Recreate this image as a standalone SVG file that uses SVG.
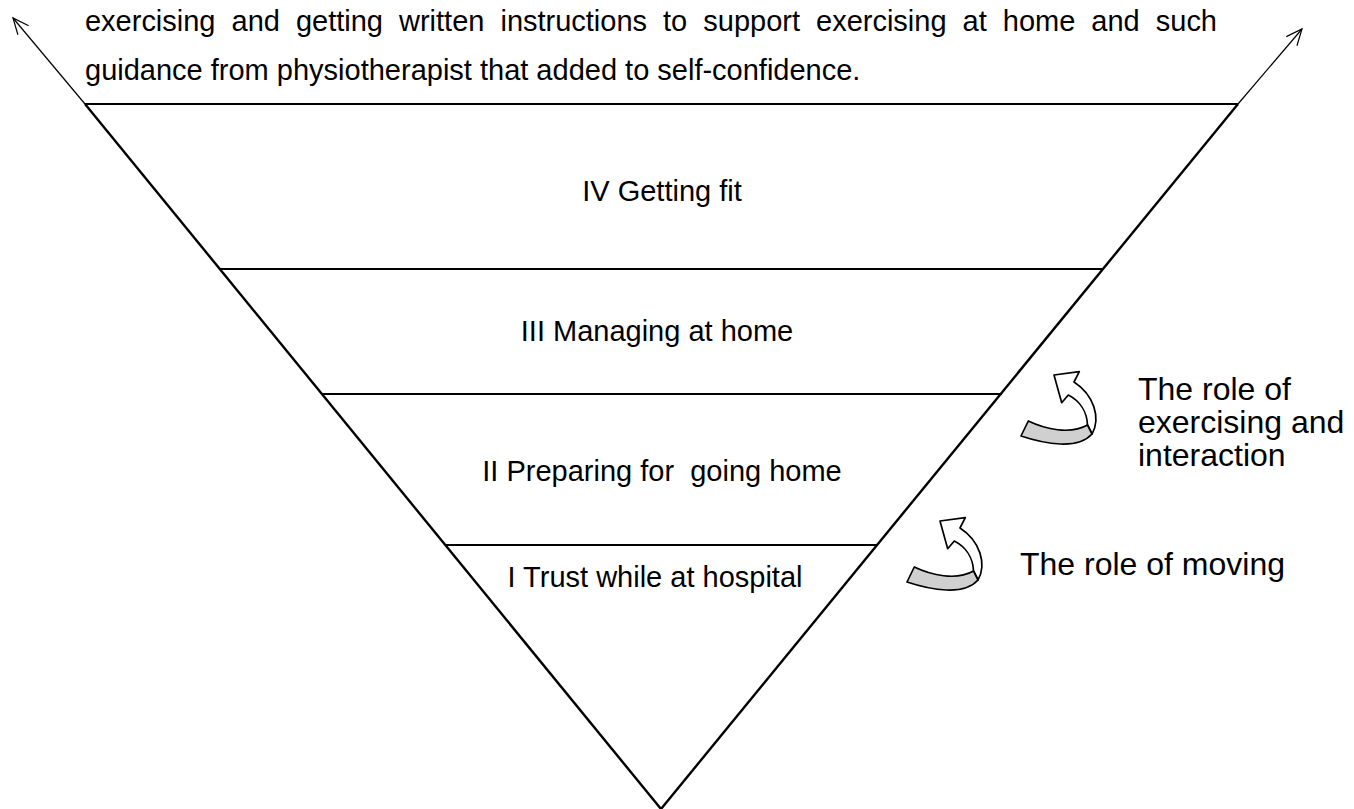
<svg xmlns="http://www.w3.org/2000/svg" width="1354" height="809" viewBox="0 0 1354 809">
<defs>
<style>
text{font-family:"Liberation Sans",Arial,sans-serif;fill:#000;}
.body{font-size:29px;}
.lbl{font-size:29px;text-anchor:middle;white-space:pre;}
.side{font-size:32px;}
.edge{stroke:#000;stroke-width:2.4;fill:none;}
.tier{stroke:#000;stroke-width:1.8;fill:none;}
.thin{stroke:#000;stroke-width:1.2;fill:none;}
.rib{stroke:#000;stroke-width:1.7;stroke-linejoin:round;}
</style>
<marker id="open" viewBox="0 0 20 20" refX="18" refY="10" markerWidth="20" markerHeight="20" markerUnits="userSpaceOnUse" orient="auto">
<path d="M2,3 L18,10 L2,17" fill="none" stroke="#000" stroke-width="1.2"/>
</marker>
<g id="turn">
<path class="rib" fill="#fff" d="M1054,375 L1079.3,371.7 L1074,382 C1094,395 1101,418 1092,434 L1087.5,425 C1087,412 1080,401 1068.3,395 L1061.7,402.7 Z"/>
<path class="rib" fill="#d0d0d0" d="M1028.3,421 C1045,429 1070,435 1087.5,425 L1092,434 C1078,450 1045,444 1021,436 Z"/>
</g>
</defs>
<rect width="1354" height="809" fill="#fff"/>

<g id="intro">
<text class="body" x="85" y="31" word-spacing="8" textLength="1132" lengthAdjust="spacing">exercising and getting written instructions to support exercising at home and such</text>
<text class="body" x="85" y="80">guidance from physiotherapist that added to self-confidence.</text>
</g>

<g id="connectors">
<line class="thin" x1="85" y1="104" x2="13" y2="18" marker-end="url(#open)"/>
<line class="thin" x1="1238" y1="104" x2="1302" y2="29" marker-end="url(#open)"/>
</g>

<g id="pyramid">
<line class="edge" x1="85" y1="104" x2="661" y2="809"/>
<line class="edge" x1="1238" y1="104" x2="661" y2="809"/>
<line class="tier" x1="85" y1="104" x2="1238" y2="104"/>
</g>

<g id="tier4">
<text class="lbl" x="662" y="201">IV Getting fit</text>
</g>
<g id="tier3">
<line class="tier" x1="220" y1="269" x2="1102" y2="269"/>
<text class="lbl" x="657" y="341">III Managing at home</text>
</g>
<g id="tier2">
<line class="tier" x1="322" y1="394" x2="1002" y2="394"/>
<text class="lbl" x="662" y="481">II Preparing for  going home</text>
</g>
<g id="tier1">
<line class="tier" x1="445" y1="545" x2="877" y2="545"/>
<text class="lbl" x="655" y="587">I Trust while at hospital</text>
</g>

<g id="role-exercising">
<use href="#turn"/>
<text class="side" x="1138" y="400">The role of</text>
<text class="side" x="1138" y="433">exercising and</text>
<text class="side" x="1138" y="466">interaction</text>
</g>
<g id="role-moving">
<use href="#turn" transform="translate(-114,146)"/>
<text class="side" x="1020" y="575">The role of moving</text>
</g>
</svg>
